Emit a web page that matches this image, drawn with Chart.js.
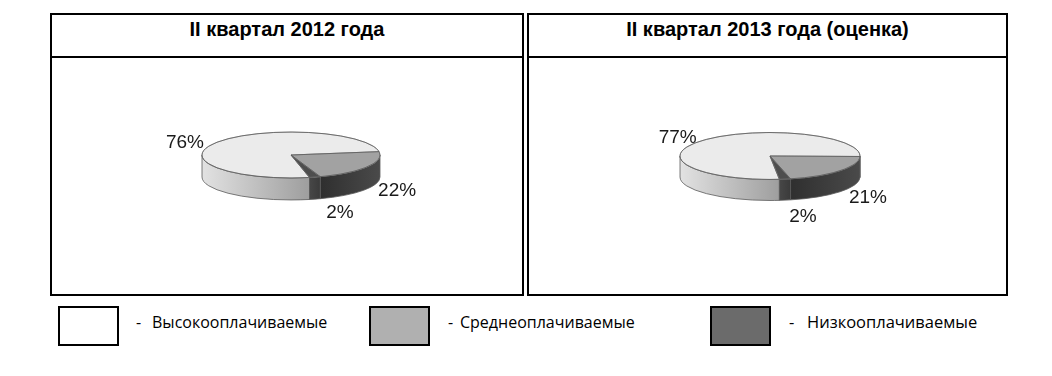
<!DOCTYPE html>
<html lang="ru">
<head>
<meta charset="utf-8">
<script src="https://cdn.jsdelivr.net/npm/chart.js@4.4.0/dist/chart.umd.min.js"></script>
<style>
  body { margin: 0; width: 1052px; height: 376px; background: #fff; position: relative; overflow: hidden; font-family: "Liberation Sans", Arial, sans-serif; }
  .panel { position: absolute; top: 13px; height: 283px; box-sizing: border-box; border: 2px solid #000; }
  .title { box-sizing: border-box; height: 43px; border-bottom: 2px solid #000; text-align: center; font-weight: bold; font-size: 20px; line-height: 22px; padding-top: 3px; color: #000; }
  .panel canvas { position: absolute; left: 0; top: 43px; }
  .key { position: absolute; top: 306px; width: 61px; height: 40px; box-sizing: border-box; border: 2px solid #000; }
  .key-text { position: absolute; top: 312px; font-family: "Open Sans", "Noto Sans", sans-serif; font-size: 16px; line-height: 20px; color: #000; white-space: pre; }
  .key-text .dash { display: inline-block; width: 15px; }
</style>
</head>
<body>
<div class="panel" style="left:50px; width:474px;">
  <div class="title" id="title1"></div>
  <canvas id="pie2012" width="470" height="236"></canvas>
</div>
<div class="panel" style="left:527px; width:481px;">
  <div class="title" id="title2"></div>
  <canvas id="pie2013" width="477" height="236"></canvas>
</div>

<div class="key" id="key0" style="left:58px;"></div>
<div class="key-text" id="keytext0" style="left:136px;"></div>
<div class="key" id="key1" style="left:369px;"></div>
<div class="key-text" id="keytext1" style="left:448px;"></div>
<div class="key" id="key2" style="left:710px;"></div>
<div class="key-text" id="keytext2" style="left:789px; font-size:16.5px;"></div>

<script>
// data
const categories = ['Высокооплачиваемые', 'Среднеоплачиваемые', 'Низкооплачиваемые'];
const titles = ['II квартал 2012 года', 'II квартал 2013 года (оценка)'];
const values2012 = [76, 22, 2];
const values2013 = [77, 21, 2];

const topColors = ['#ebebeb', '#a2a2a2', '#4e4e4e'];
const sideColors = [['#e2e2e2', '#9e9e9e'], ['#2f2f2f', '#4a4a4a'], ['#474747', '#3a3a3a']];
const keyColors = ['#ffffff', '#b0b0b0', '#6b6b6b'];
const dashGaps = [16, 12, 18];

document.getElementById('title1').textContent = titles[0];
document.getElementById('title2').textContent = titles[1];
categories.forEach((c, i) => {
    document.getElementById('key' + i).style.background = keyColors[i];
    const t = document.getElementById('keytext' + i);
    const dash = document.createElement('span');
    dash.className = 'dash';
    dash.style.width = dashGaps[i] + 'px';
    dash.textContent = '-';
    t.appendChild(dash);
    t.appendChild(document.createTextNode(c));
});

// Flattened "3D" pie: walls under the front half, top face squashed vertically
const pie3d = {
    id: 'pie3d',
    beforeDatasetsDraw(chart, args, opts) {
        const ctx = chart.ctx;
        const arcs = chart.getDatasetMeta(0).data;
        if (!arcs.length) return;
        const cx = arcs[0].x, cy = arcs[0].y, r = arcs[0].outerRadius;
        const ry = r * opts.tilt, d = opts.depth;

        ctx.save();
        arcs.forEach((arc, i) => {
            for (let n = -1; n <= 2; n++) {
                const lo = Math.max(arc.startAngle, 2 * Math.PI * n);
                const hi = Math.min(arc.endAngle, 2 * Math.PI * n + Math.PI);
                if (hi <= lo) continue;
                const x1 = cx + r * Math.cos(lo), x2 = cx + r * Math.cos(hi);
                const g = ctx.createLinearGradient(Math.min(x1, x2), 0, Math.max(x1, x2) + 0.01, 0);
                g.addColorStop(0, opts.sideColors[i][0]);
                g.addColorStop(1, opts.sideColors[i][1]);
                ctx.beginPath();
                ctx.ellipse(cx, cy, r, ry, 0, lo, hi);
                ctx.ellipse(cx, cy + d, r, ry, 0, hi, lo, true);
                ctx.closePath();
                ctx.fillStyle = g;
                ctx.fill();
                ctx.strokeStyle = opts.edgeColor;
                ctx.lineWidth = 0.8;
                ctx.stroke();
            }
        });
        ctx.restore();

        ctx.save();
        ctx.translate(cx, cy);
        ctx.scale(1, opts.tilt);
        ctx.translate(-cx, -cy);
    },
    afterDatasetsDraw(chart, args, opts) {
        const ctx = chart.ctx;
        ctx.restore();
        const arcs = chart.getDatasetMeta(0).data;
        if (!arcs.length) return;
        const cx = arcs[0].x, cy = arcs[0].y, r = arcs[0].outerRadius;
        const ry = r * opts.tilt, d = opts.depth;

        // top outline and slice edges
        ctx.save();
        ctx.strokeStyle = opts.edgeColor;
        ctx.lineWidth = 0.8;
        ctx.beginPath();
        ctx.ellipse(cx, cy, r, ry, 0, 0, Math.PI * 2);
        ctx.stroke();
        arcs.forEach(arc => {
            ctx.beginPath();
            ctx.moveTo(cx, cy);
            ctx.lineTo(cx + r * Math.cos(arc.startAngle), cy + ry * Math.sin(arc.startAngle));
            ctx.stroke();
        });

        // percent labels
        const data = chart.data.datasets[0].data;
        ctx.fillStyle = '#1a1a1a';
        ctx.font = '19px "Liberation Sans", Arial, sans-serif';
        ctx.textAlign = 'center';
        ctx.textBaseline = 'middle';
        arcs.forEach((arc, i) => {
            const mid = (arc.startAngle + arc.endAngle) / 2;
            const s = Math.sin(mid);
            const ax = cx + r * Math.cos(mid);
            const ay = cy + ry * s + (s > 0 ? d : 0);
            const off = opts.labelOffsets[i];
            ctx.fillText(data[i] + '%', ax + off[0], ay + off[1]);
        });
        ctx.restore();
    }
};

function createPie(canvasId, values, rotation, radius, padding, depth, tilt, labelOffsets) {
    const ctx = document.getElementById(canvasId).getContext('2d');
    return new Chart(ctx, {
        type: 'pie',
        data: {
            labels: categories,
            datasets: [{
                data: values,
                backgroundColor: topColors,
                borderColor: '#8a8a8a',
                borderWidth: 1
            }]
        },
        options: {
            responsive: false,
            animation: false,
            rotation: rotation,
            radius: radius,
            layout: { padding: padding },
            plugins: {
                legend: { display: false },
                tooltip: { enabled: false },
                pie3d: { tilt: tilt, depth: depth, sideColors: sideColors, edgeColor: '#5a5a5a', labelOffsets: labelOffsets }
            }
        },
        plugins: [pie3d]
    });
}

createPie('pie2012', values2012, 168, 89, { left: 8, right: 0, top: 0, bottom: 42 }, 22, 0.258,
    [[-33, 1], [30, 2], [25, 14]]);
createPie('pie2013', values2013, 174, 90, { left: 5, right: 0, top: 0, bottom: 40 }, 21, 0.261,
    [[-26, -2], [28, 6], [18, 17]]);
</script>
</body>
</html>
